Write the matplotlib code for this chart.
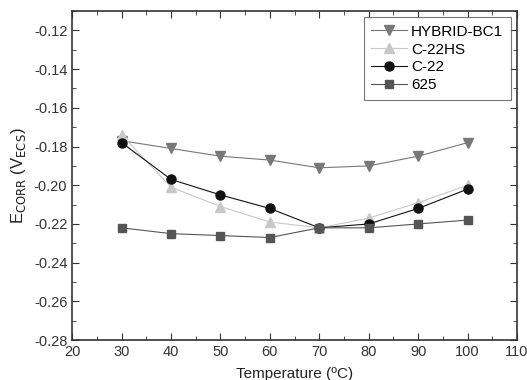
import matplotlib
matplotlib.use('Agg')
import matplotlib.pyplot as plt
from matplotlib.ticker import MultipleLocator

plt.rcParams['font.family'] = ['Liberation Sans', 'DejaVu Sans']

temps = [30, 40, 50, 60, 70, 80, 90, 100]
hybrid = [-0.177, -0.181, -0.185, -0.187, -0.191, -0.190, -0.185, -0.178]
c22hs = [-0.174, -0.201, -0.211, -0.219, -0.222, -0.217, -0.209, -0.200]
c22 = [-0.178, -0.197, -0.205, -0.212, -0.222, -0.220, -0.212, -0.202]
a625 = [-0.222, -0.225, -0.226, -0.227, -0.222, -0.222, -0.220, -0.218]

fig = plt.figure(figsize=(5.27, 3.8), dpi=100)
ax = fig.add_axes([0.137, 0.105, 0.844, 0.866])

ax.plot(temps, hybrid, '-v', color='#777777', ms=7, lw=0.8, label='HYBRID-BC1')
ax.plot(temps, c22hs, '-^', color='#c8c8c8', ms=7, lw=0.8, label='C-22HS')
ax.plot(temps, c22, '-o', color='#111111', ms=6.5, lw=0.8, label='C-22')
ax.plot(temps, a625, '-s', color='#555555', ms=5.5, lw=0.8, label='625')

ax.set_xlim(20, 110)
ax.set_ylim(-0.28, -0.11)
ax.xaxis.set_major_locator(MultipleLocator(10))
ax.xaxis.set_minor_locator(MultipleLocator(5))
ax.yaxis.set_major_locator(MultipleLocator(0.02))
ax.yaxis.set_minor_locator(MultipleLocator(0.01))
ax.yaxis.set_major_formatter(plt.FuncFormatter(lambda v, p: '%.2f' % v))
ax.tick_params(which='both', direction='in', top=True, right=True, labelsize=10.5, colors='#333333')
ax.tick_params(which='major', length=5)
ax.tick_params(which='minor', length=3)
for s in ax.spines.values():
    s.set_color('#333333')
    s.set_linewidth(1.2)

ax.set_xlabel('Temperature (ºC)', fontsize=11, color='#222222', labelpad=6)
ax.set_ylabel('E$_{\\mathrm{CORR}}$ (V$_{\\mathrm{ECS}}$)', fontsize=12, color='#222222')

leg = ax.legend(loc='upper right', fontsize=11, frameon=True, fancybox=False,
                edgecolor='#555555', handlelength=2.3, borderaxespad=0.4,
                borderpad=0.5, labelspacing=0.25, handletextpad=0.3)
leg.get_frame().set_linewidth(0.8)

fig.savefig('out.png', dpi=100)
